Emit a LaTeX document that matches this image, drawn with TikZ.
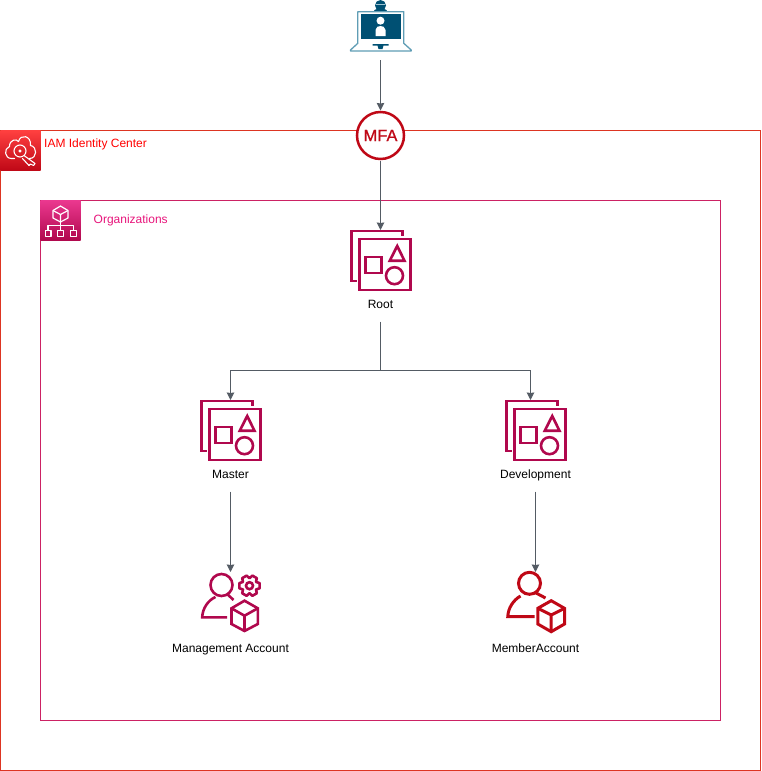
\documentclass[tikz,border=0pt]{standalone}
\usepackage{fontspec}
\setmainfont{Liberation Sans}
\newfontfamily\mfafont[FakeBold=0.8]{Liberation Sans}
\usetikzlibrary{arrows.meta,positioning}
\definecolor{awsred}{HTML}{FF0000}
\definecolor{awsframe}{HTML}{DD3522}
\definecolor{orgframe}{HTML}{CC2264}
\definecolor{orgtext}{HTML}{E7157B}
\definecolor{iconred}{HTML}{BF0816}
\definecolor{iconpink}{HTML}{B0084D}
\definecolor{lineg}{HTML}{545B64}
\definecolor{screenblue}{HTML}{005073}
\definecolor{laptopedge}{HTML}{5F9DB5}
\tikzset{
    link/.style = {draw=lineg, line width=1pt, -{Stealth[length=7.5pt,width=7.5pt,inset=0.5pt]}},
    plainlink/.style = {draw=lineg, line width=1pt},
    iconbox/.style = {minimum size=60pt, inner sep=0pt, outer sep=0pt},
    tile/.style = {minimum size=40pt, inner sep=0pt, outer sep=0pt},
    lbl/.style = {font=\fontsize{12}{14}\selectfont, text=black, text height=9pt, text depth=3pt, minimum height=32pt, inner sep=0pt, outer sep=0pt},
    ouicon/.pic = {
        \begin{scope}[draw=iconpink, line width=2.6pt, line join=miter]
            \draw (-24,21) -- (-29,21) -- (-29,-29) -- (22,-29) -- (22,-24);
            \draw (-21,-21) rectangle (30,30);
            \draw (-15,-3) rectangle (1,13);
            \draw (16.7,-14) -- (24,0.7) -- (9.3,0.7) -- cycle;
            \draw (14,15.7) circle (8.5);
        \end{scope}
    },
    mgmticon/.pic = {
        \begin{scope}[draw=iconpink, line width=2.6pt]
            \draw (-9,-17) circle (11);
            \draw (-3.3,15.3) -- (-28.3,15.3) .. controls (-28,6) and (-22,-2) .. (-15,-5);
            \draw (-3.3,-8) -- (3,-2);
            \draw (14,-1.3) -- (27.3,6.3) -- (27.3,22) -- (14,29) -- (1,22) -- (1,6.3) -- cycle;
            \draw (1,6.3) -- (14,13.7) -- (27.3,6.3) (14,13.7) -- (14,29);
            \begin{scope}[shift={(19,-16.3)}]
                \draw[line join=round] (-30:7.5) \foreach \a in {0,60,...,300} { -- (\a-14:10.5) -- (\a+14:10.5) -- (\a+30:7.5) } -- cycle;
                \draw (0,0) circle (3.5);
            \end{scope}
        \end{scope}
    },
    membericon/.pic = {
        \begin{scope}[draw=iconred, line width=3pt]
            \draw (-6,-18.7) circle (11);
            \draw (-1,14.7) -- (-27.7,14.7) .. controls (-27.5,6) and (-22,-2) .. (-15,-6);
            \draw (0,-9.3) -- (10,-4);
            \draw (15.7,-1.3) -- (29,6.3) -- (29,22) -- (15.7,29.7) -- (2.3,22) -- (2.3,6.3) -- cycle;
            \draw (2.3,6.3) -- (15.7,13) -- (29,6.3) (15.7,13) -- (15.7,29.7);
        \end{scope}
    },
    laptopicon/.pic = {
        % lid and base
        \draw[laptopedge, line width=1.3pt, line join=round, fill=white] (-22.7,13.3) -- (-22.7,-18.3) -- (23.3,-18.3) -- (23.3,13.3) -- (30.7,20) -- (30.7,21) -- (-30,21) -- (-30,20) -- cycle;
        \fill[screenblue] (-19.3,-15.7) rectangle (20.7,9.3);
        \fill[white] (0,-9.3) circle (4);
        \fill[white] (-5,6) -- (-5,0) .. controls (-5,-3) and (-2,-4) .. (0,-4) .. controls (2,-4) and (5,-3) .. (5,0) -- (5,6) -- cycle;
        \fill[screenblue] (-8,14) -- (8,14) -- (8,15.5) -- (3,15.5) -- (2,19) -- (-2,19) -- (-3,15.5) -- (-8,15.5) -- cycle;
        % person above the lid
        \fill[screenblue] (0,-24.5) circle (5.5);
        \fill[screenblue] (-6.5,-18.8) .. controls (-6.5,-22) and (6.5,-22) .. (6.5,-18.8) -- cycle;
        \fill[laptopedge!60] (-4.5,-26) rectangle (4.5,-24.8);
    },
    iamglyph/.pic = {
        \begin{scope}[draw=white, line width=1.1pt, line join=round, line cap=round]
            \draw (-6,8) -- (-9,8) .. controls (-16,8) and (-17,-2) .. (-11,-4) .. controls (-11,-11) and (-4,-12) .. (-2,-9) .. controls (0,-17) and (11,-15) .. (10,-5) .. controls (17,-4) and (17,8) .. (9,8);
            \draw (-0.5,0.5) circle (6);
            \draw (-0.5,0.5) circle (1);
            \draw (3.5,5) -- (14.5,13) -- (13,15) -- (10,13.5) -- (8.5,15) -- (2,8);
        \end{scope}
    },
    orgglyph/.pic = {
        \begin{scope}[draw=white, line width=1.2pt, line join=round]
            \draw (0,-14.5) -- (7.5,-10) -- (7.5,-2.5) -- (0,1.5) -- (-7.5,-2.5) -- (-7.5,-10) -- cycle;
            \draw (-7.5,-10) -- (0,-6) -- (7.5,-10) (0,-6) -- (0,1.5);
            \draw (0,1.5) -- (0,10) (-12.5,10) -- (-12.5,5) -- (13,5) -- (13,10);
            \draw (-15,10) rectangle (-9.5,15.7);
            \draw (-2.7,10) rectangle (3.3,15.7);
            \draw (10,10) rectangle (16,15.7);
        \end{scope}
    }
}

\begin{document}
\begin{tikzpicture}[x=1pt, y=-1pt]

    \useasboundingbox (0,0) rectangle (761,771);

    % Groups
    \node[draw=awsframe, line width=1pt, minimum width=760pt, minimum height=640pt, inner sep=0pt, outer sep=0pt] (iamgroup) at (380.5,450.5) {};
    \node[draw=orgframe, line width=1pt, minimum width=680pt, minimum height=520pt, inner sep=0pt, outer sep=0pt] (orggroup) at (380.5,460.5) {};
    \node[tile, top color=red!75!white, bottom color=iconred] (iamtile) at (20.5,150.5) {};
    \node[tile, top color=orgtext!85!white, bottom color=iconpink] (orgtile) at (60.5,220.5) {};
    \pic at (iamtile) {iamglyph};
    \pic at (orgtile) {orgglyph};
    \node[font=\fontsize{12}{14}\selectfont, text=awsred, anchor=west, inner sep=0pt] (iamtitle) at (44,144.5) {IAM Identity Center};
    \node[font=\fontsize{12}{14}\selectfont, text=orgtext, anchor=west, inner sep=0pt] (orgtitle) at (93.5,220.5) {Organizations};

    % Nodes
    \node[iconbox] (laptop) at (380.5,30) {};
    \node[draw=iconred, fill=white, circle, line width=2.5pt, minimum size=47pt, inner sep=0pt, outer sep=1.5pt, text=iconred, font=\mfafont\fontsize{16.5}{18}\selectfont] (mfa) at (380.5,135.5) {MFA};
    \node[iconbox] (root) at (380.5,260) {};
    \node[iconbox] (master) at (230.5,430) {};
    \node[iconbox] (dev) at (535.5,430) {};
    \node[iconbox] (mgmt) at (230.5,602) {};
    \node[iconbox] (member) at (535.5,602) {};
    \node[lbl] (rootlbl) at (380.5,305.5) {Root};
    \node[lbl] (masterlbl) at (230.5,475.5) {Master};
    \node[lbl] (devlbl) at (535.5,475.5) {Development};
    \node[lbl] (mgmtlbl) at (230.5,649.5) {Management Account};
    \node[lbl] (memberlbl) at (535.5,649.5) {MemberAccount};
    \coordinate (split) at (380.5,370.5);
    \coordinate (devin) at (530.5,400);

    % Icons
    \pic at (laptop) {laptopicon};
    \pic at (root) {ouicon};
    \pic at (master) {ouicon};
    \pic at (dev) {ouicon};
    \pic at (mgmt) {mgmticon};
    \pic at (member) {membericon};

    % Connectors
    \draw[link] (laptop) -- (mfa);
    \draw[link] (mfa) -- (root);
    \draw[plainlink] (rootlbl) -- (split);
    \draw[link] (split) -| (master);
    \draw[link] (split) -| (devin);
    \draw[link] (masterlbl) -- (mgmt);
    \draw[link] (devlbl) -- (member);

\end{tikzpicture}
\end{document}
